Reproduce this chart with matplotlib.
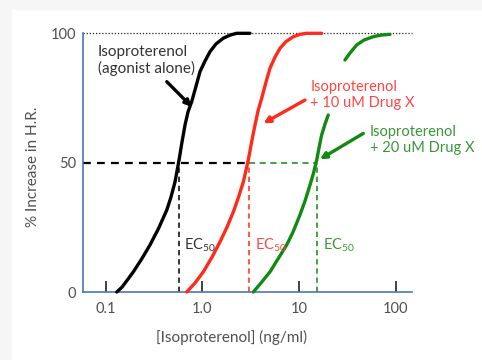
import matplotlib
matplotlib.use("Agg")
import matplotlib.pyplot as plt
from matplotlib.patches import Rectangle

plt.rcParams['font.family'] = ['Lato', 'DejaVu Sans']
plt.rcParams['mathtext.default'] = 'regular'

# --- data ---
black_x = [0.130, 0.1475, 0.170, 0.193, 0.2357, 0.287, 0.350, 0.428, 0.473, 0.521, 0.573, 0.615,
           0.661, 0.709, 0.775, 0.859, 0.944, 1.064, 1.198, 1.382, 1.643, 1.930, 2.26, 3.10]
black_y = [0, 1.9, 5.0, 7.8, 12.8, 18.2, 24.4, 31.7, 36.7, 42.6, 51.0, 58.0,
           64.6, 69.6, 73.6, 79.6, 85.2, 89.3, 92.9, 95.9, 98.1, 99.3, 100, 100]

red_x = [0.688, 0.839, 1.022, 1.257, 1.52, 1.797, 2.09, 2.362, 2.65, 2.98, 3.258, 3.50,
         3.758, 4.10, 4.548, 5.00, 5.633, 6.34, 7.318, 8.71, 10.2, 12.0, 17.1]
red_y = [0, 3.5, 7.8, 13.5, 19.4, 25.1, 31.0, 36.7, 42.6, 51.0, 58.8, 64.6,
         70.0, 74.9, 81.2, 86.5, 90.8, 94.2, 96.8, 98.7, 99.6, 100, 100]

green_x = [3.36, 4.036, 5.00, 6.05, 7.44, 8.65, 10.2, 11.51, 12.97, 14.09, 15.2, 16.06,
           17.1, 18.52, 20.0, 29.8, 33.6, 39.4, 46.9, 58.5, 70.3, 87.1]
green_y = [0, 3.5, 7.8, 12.8, 18.2, 23.2, 29.8, 35.2, 41.4, 46.0, 51.0, 55.7,
           60.7, 64.9, 68.4, 89.7, 92.4, 95.5, 97.4, 98.7, 99.3, 99.6]
green_split = 15  # the curve is hidden behind the red label between these points

ec50 = [0.573, 3.0, 15.2]
x_ticks = [0.1, 1.0, 10, 100]
x_tick_labels = ['0.1', '1.0', '10', '100']
y_ticks = [0, 50, 100]
labels = ['Isoproterenol\n(agonist alone)', 'Isoproterenol\n+ 10 uM Drug X', 'Isoproterenol\n+ 20 uM Drug X']

BLACK = '#000000'
RED = '#ff2a1a'
GREEN = '#108a10'
RED_TXT = '#ff4545'
GREEN_TXT = '#3a963a'
GRAY = '#505050'
SPINE = '#4a78b0'
FS = 11
LFS = 10.5
TFS = 10.5

fig = plt.figure(figsize=(4.82, 3.60), dpi=100, facecolor='#f6f6f6')
fig.patches.append(Rectangle((12 / 482, 0), 1, 1 - 10 / 360, transform=fig.transFigure,
                             facecolor='white', edgecolor='none', zorder=-10))
ax = fig.add_axes([83 / 482, 1 - 292 / 360, (412 - 83) / 482, (292 - 33.3) / 360])
ax.set_facecolor('none')
ax.set_zorder(5)
ax.set_xscale('log')
ax.set_xlim(0.0582, 147)
ax.set_ylim(0, 100)

# reference lines
ax.plot([0.0582, 147], [100, 100], color='#222222', lw=0.9, ls=(0, (1, 1.5)), zorder=2, clip_on=False)
ax.plot([0.0582, ec50[1]], [50, 50], color=BLACK, lw=1.6, ls=(0, (3.5, 2.8)), zorder=2)
ax.plot([ec50[1], ec50[2]], [50, 50], color=GREEN, lw=1.1, ls=(0, (4, 3)), zorder=2)
for xv, c in zip(ec50, [BLACK, RED, GREEN]):
    ax.plot([xv, xv], [0, 50], color=c, lw=1.1, ls=(0, (3.5, 2.5)), zorder=2)

# curves
line_kw = dict(lw=2.4, zorder=4, clip_on=False, solid_capstyle='round', solid_joinstyle='round')
ax.plot(black_x, black_y, color=BLACK, **line_kw)
ax.plot(red_x, red_y, color=RED, **line_kw)
ax.plot(green_x[:green_split], green_y[:green_split], color=GREEN, **line_kw)
ax.plot(green_x[green_split:], green_y[green_split:], color=GREEN, **line_kw)

# EC50 labels
for xv, c in zip([0.646, 3.50, 17.6], ['#333333', RED_TXT, GREEN_TXT]):
    ax.text(xv, 18.2, 'EC$_{50}$', color=c, fontsize=10.5, ha='left', va='center', zorder=5)

# annotations
arrow_kw = dict(arrowstyle='-|>', lw=2.4, mutation_scale=9, shrinkA=0, shrinkB=0)
ax.text(0.0832, 89.5, labels[0], color='#333333', fontsize=FS, ha='left', va='center',
        linespacing=1.15, zorder=5)
ax.annotate('', xy=(0.775, 71.6), xytext=(0.428, 81.3),
            arrowprops=dict(color=BLACK, **arrow_kw), zorder=5)
ax.text(13.0, 76.1, labels[1], color=RED_TXT, fontsize=LFS, ha='left', va='center',
        linespacing=1.2, zorder=5)
ax.annotate('', xy=(4.27, 65.2), xytext=(11.5, 74.2),
            arrowprops=dict(color=RED, **arrow_kw), zorder=5)
ax.text(54.1, 58.8, labels[2], color=GREEN_TXT, fontsize=LFS, ha='left', va='center',
        linespacing=1.2, zorder=5, clip_on=False)
ax.annotate('', xy=(16.4, 51.3), xytext=(46.1, 61.3),
            arrowprops=dict(color=GREEN, **arrow_kw), zorder=5)

# axes styling
for s in ['top', 'right']:
    ax.spines[s].set_visible(False)
for s in ['left', 'bottom']:
    ax.spines[s].set_color(SPINE)
    ax.spines[s].set_linewidth(1.2)

ax.set_xticks(x_ticks)
ax.set_xticklabels(x_tick_labels)
ax.minorticks_off()
ax.tick_params(axis='x', direction='in', length=8, width=1.2, color='#222222',
               labelcolor=GRAY, labelsize=TFS, pad=7)
ax.set_yticks(y_ticks)
ax.tick_params(axis='y', length=0, labelcolor=GRAY, labelsize=TFS, pad=5)

ax.set_xlabel('[Isoproterenol] (ng/ml)', color=GRAY, fontsize=FS)
ax.xaxis.set_label_coords(0.451, -0.148)
ax.set_ylabel('% Increase in H.R.', color=GRAY, fontsize=FS)
ax.yaxis.set_label_coords(-0.13, 0.485)

fig.savefig('out.png', dpi=100, facecolor=fig.get_facecolor())
